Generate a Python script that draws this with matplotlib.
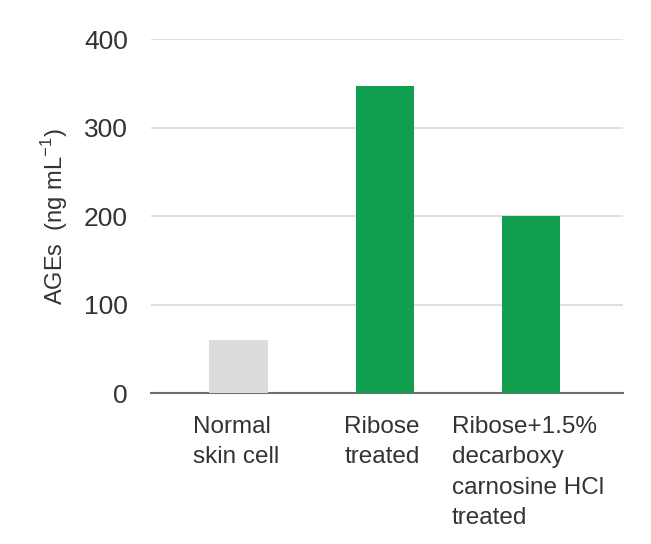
import numpy as np
import matplotlib
matplotlib.use('Agg')
import matplotlib.pyplot as plt

plt.rcParams['font.family'] = ['Liberation Sans', 'DejaVu Sans']

categories = ['Normal\nskin cell', 'Ribose\ntreated',
              'Ribose+1.5%\ndecarboxy\ncarnosine HCl\ntreated']
ages = [60, 347, 200]
colors = ['#dcdcdc', '#0f9f4f', '#0f9f4f']
yticks = [0, 100, 200, 300, 400]

fig = plt.figure(figsize=(6.51, 5.44), dpi=100)
ax = fig.add_axes([151 / 651, 1 - 393.3 / 544, (623 - 151) / 651, (393.3 - 39.3) / 544])

x = np.arange(len(categories))
ax.bar(x, ages, width=0.40, color=colors, zorder=3)

ax.set_ylim(0, 400)
ax.set_xlim(-0.6, 2.63)
ax.set_yticks(yticks)
ax.yaxis.grid(True, color='#d9d9d9', linewidth=1.2, zorder=0)
ax.set_axisbelow(True)

for s in ['top', 'right', 'left']:
  ax.spines[s].set_visible(False)
ax.spines['bottom'].set_color('#6e6e6e')
ax.spines['bottom'].set_linewidth(1.5)

ax.tick_params(axis='y', length=0, pad=16.5, labelsize=19, labelcolor='#333333')
ax.set_xticks([])

for xi, lab in zip(x, categories):
  ax.text(xi - 0.02, -0.064, lab, transform=ax.get_xaxis_transform(),
          ha='center', va='top', multialignment='left',
          fontsize=17.5, color='#333333', linespacing=1.5)

ax.set_ylabel('AGEs  (ng mL$^{\\mathregular{-1}}$)', fontsize=17,
              color='#333333')
ax.yaxis.set_label_coords(-0.172, 0.5)

plt.savefig('out.png', dpi=100)
